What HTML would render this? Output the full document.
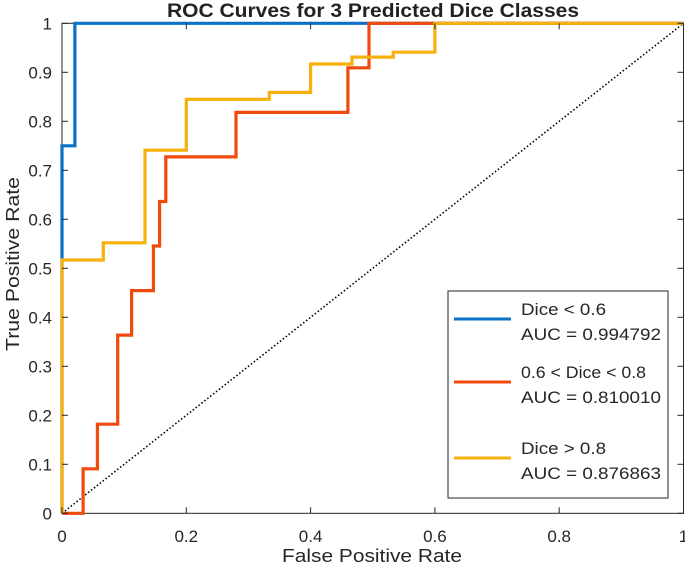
<!DOCTYPE html>
<html><head><meta charset="utf-8"><style>
body{margin:0;background:#fff;}
svg{display:block;font-family:"Liberation Sans",Arial,sans-serif;}
</style></head><body>
<svg id="chart" width="685" height="572">
<g id="plot"></g>
<text x="373" y="17" text-anchor="middle" font-size="19" font-weight="bold" fill="#222" textLength="412" lengthAdjust="spacingAndGlyphs">ROC Curves for 3 Predicted Dice Classes</text>
<text x="372" y="562" text-anchor="middle" font-size="18" fill="#262626" textLength="180" lengthAdjust="spacingAndGlyphs">False Positive Rate</text>
<text transform="translate(19,264) rotate(-90)" text-anchor="middle" font-size="18" fill="#262626" textLength="174" lengthAdjust="spacingAndGlyphs">True Positive Rate</text>
<g>
<rect x="448" y="291" width="220" height="207" fill="#fff" stroke="#262626" stroke-width="1"/>
<g id="legend-entries"></g>
</g>
</svg>
<script>
const xTicks=[0,0.2,0.4,0.6,0.8,1];
const xTickLabels=["0","0.2","0.4","0.6","0.8","1"];
const yTicks=[0,0.1,0.2,0.3,0.4,0.5,0.6,0.7,0.8,0.9,1];
const yTickLabels=["0","0.1","0.2","0.3","0.4","0.5","0.6","0.7","0.8","0.9","1"];
const seriesNames=["Dice < 0.6","0.6 < Dice < 0.8","Dice > 0.8"];
const aucLabels=["AUC = 0.994792","AUC = 0.810010","AUC = 0.876863"];
const nameLens=[85,125,85];
const blueFPR=[0,0,0.0208,0.0208,1];
const blueTPR=[0,0.75,0.75,1,1];
const redFPR=[0,0.034,0.034,0.057,0.057,0.0896,0.0896,0.112,0.112,0.147,0.147,0.157,0.157,0.167,0.167,0.28,0.28,0.46,0.46,0.494,0.494,1];
const redTPR=[0,0,0.0909,0.0909,0.1818,0.1818,0.3636,0.3636,0.4545,0.4545,0.5455,0.5455,0.6364,0.6364,0.7273,0.7273,0.8182,0.8182,0.9091,0.9091,1,1];
const yelFPR=[0,0,0.0665,0.0665,0.1335,0.1335,0.2,0.2,0.3336,0.3336,0.4,0.4,0.4666,0.4666,0.533,0.533,0.6,0.6,1];
const yelTPR=[0,0.517,0.517,0.552,0.552,0.741,0.741,0.845,0.845,0.859,0.859,0.917,0.917,0.931,0.931,0.941,0.941,1,1];
const colors=["#0a72c6","#f04a0c","#f7b00c"];

const X0=62,X1=683.5,Y0=513.3,Y1=23.3;
const sx=v=>X0+v*(X1-X0);
const sy=v=>Y0-v*(Y0-Y1);
const NS="http://www.w3.org/2000/svg";
const plot=document.getElementById('plot');
function mk(tag,attrs,parent){const e=document.createElementNS(NS,tag);for(const k in attrs)e.setAttribute(k,attrs[k]);parent.appendChild(e);return e;}

const diag=mk('line',{x1:sx(0),y1:sy(0),x2:sx(1),y2:sy(1),stroke:'#000','stroke-width':1.6,'stroke-dasharray':'1.5 2.2'},plot);



const box=mk('rect',{x:X0,y:Y1,width:X1-X0,height:Y0-Y1,fill:'none',stroke:'#262626','stroke-width':1},plot);



const all=[[blueFPR,blueTPR],[redFPR,redTPR],[yelFPR,yelTPR]];
const ids=['curve-dice-lt-0.6','curve-dice-0.6-0.8','curve-dice-gt-0.8'];
[0,1,2].forEach(i=>{
  const s=all[i];
  const pts=s[0].map((x,j)=>sx(x).toFixed(1)+','+sy(s[1][j]).toFixed(1)).join(' ');
  const p=mk('polyline',{points:pts,fill:'none',stroke:colors[i],'stroke-width':3.2,'stroke-linejoin':'miter'},plot);
  
  
});

xTicks.forEach((v,i)=>{
  mk('line',{x1:sx(v),y1:Y0,x2:sx(v),y2:Y0-6,stroke:'#262626'},plot);
  mk('line',{x1:sx(v),y1:Y1,x2:sx(v),y2:Y1+6,stroke:'#262626'},plot);
  const t=mk('text',{x:sx(v),y:542,'text-anchor':'middle','font-size':17,fill:'#262626'},plot);
  t.textContent=xTickLabels[i];
  
  
});
yTicks.forEach((v,i)=>{
  mk('line',{x1:X0,y1:sy(v),x2:X0+6,y2:sy(v),stroke:'#262626'},plot);
  mk('line',{x1:X1,y1:sy(v),x2:X1-6,y2:sy(v),stroke:'#262626'},plot);
  const t=mk('text',{x:52,y:sy(v)+6,'text-anchor':'end','font-size':17,fill:'#262626'},plot);
  t.textContent=yTickLabels[i];
  
  
});

const leg=document.getElementById('legend-entries');
const lineY=[319,382,458];
seriesNames.forEach((n,i)=>{
  const l=mk('line',{x1:454,y1:lineY[i],x2:511,y2:lineY[i],stroke:colors[i],'stroke-width':3},leg);
  
  
  const t1=mk('text',{x:521,y:lineY[i]-4,'font-size':17,fill:'#262626',textLength:nameLens[i],lengthAdjust:'spacingAndGlyphs'},leg);
  t1.textContent=n;
  
  
  const t2=mk('text',{x:521,y:lineY[i]+21,'font-size':17,fill:'#262626',textLength:140,lengthAdjust:'spacingAndGlyphs'},leg);
  t2.textContent=aucLabels[i];
  
  
});
</script>
</body></html>
